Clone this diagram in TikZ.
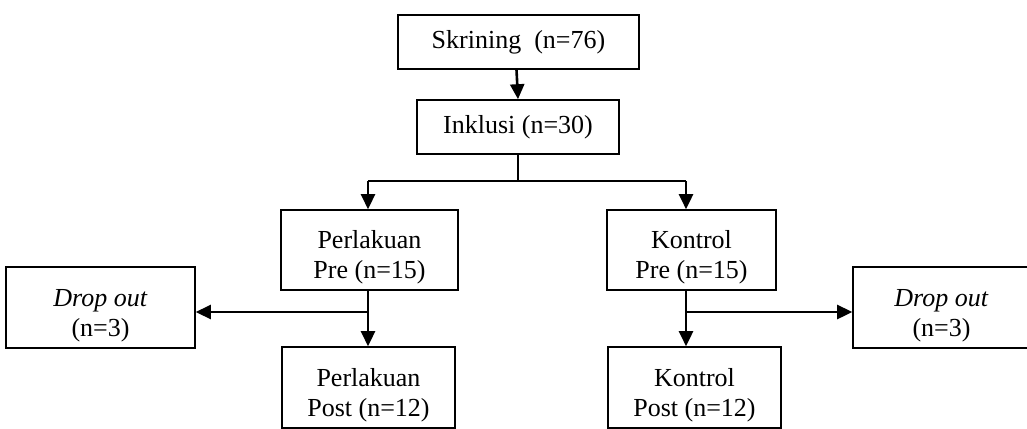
\documentclass[tikz,border=0pt]{standalone}
\usepackage{fontspec}
\setmainfont{Liberation Serif}
\usetikzlibrary{arrows.meta}
\newcommand{\topgap}{\rule{0pt}{33pt}}
\begin{document}
\begin{tikzpicture}[x=1pt,y=-1pt,
  box/.style={draw,line width=1.6pt,rectangle,align=center,inner sep=0pt,
    font=\fontsize{26}{30}\selectfont},
  arr/.style={line width=2.6pt,-{Triangle[length=15pt,width=14pt]}},
  ln/.style={line width=1.6pt}]
\useasboundingbox (0,0) rectangle (1027,428);
\begin{scope}
\clip (0,0) rectangle (1027,428);
\node[box,minimum width=241pt,minimum height=54pt] (S) at (518.5,42) {Skrining\ \ (n=76)};
\node[box,minimum width=202pt,minimum height=54pt] (I) at (518,127) {Inklusi (n=30)};
\node[box,minimum width=177pt,minimum height=80pt] (PP) at (369.5,250) {\topgap Perlakuan\\Pre (n=15)};
\node[box,minimum width=169pt,minimum height=80pt] (KP) at (691.5,250) {\topgap Kontrol\\Pre (n=15)};
\node[box,minimum width=189pt,minimum height=81pt] (DL) at (100.5,307.5) {\topgap\textit{Drop out}\\(n=3)};
\node[box,minimum width=177pt,minimum height=81pt] (DR) at (941.5,307.5) {\topgap\textit{Drop out}\\(n=3)};
\node[box,minimum width=173pt,minimum height=81pt] (PO) at (368.5,387.5) {\topgap Perlakuan\\Post (n=12)};
\node[box,minimum width=173pt,minimum height=81pt] (KO) at (694.5,387.5) {\topgap Kontrol\\Post (n=12)};
\coordinate (j) at (518,181);
\coordinate (cL) at (368,181);
\coordinate (cR) at (686,181);
\coordinate (bL) at (368,312);
\coordinate (bR) at (686,312);
\draw[arr] ([xshift=-2pt]S.south) -- (I.north);
\draw[ln] (I.south) -- (j);
\draw[ln] (cL) -- (cR);
\draw[arr] (cL) -- (cL |- PP.north);
\draw[arr] (cR) -- (cR |- KP.north);
\draw[arr] (cL |- PP.south) -- (cL |- PO.north);
\draw[arr] (cR |- KP.south) -- (cR |- KO.north);
\draw[arr] (bL) -- (DL.east |- bL);
\draw[arr] (bR) -- (DR.west |- bR);
\end{scope}
\end{tikzpicture}
\end{document}
